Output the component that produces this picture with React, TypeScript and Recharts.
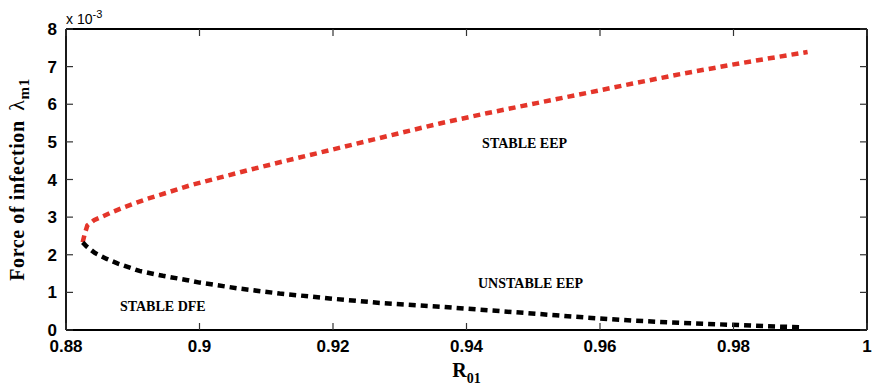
import React from 'react';
import { LineChart, Line, XAxis, YAxis, ReferenceDot } from 'recharts';

// Upper branch (stable endemic equilibrium), lambda in units of 1e-3
const upperR = [0.8825, 0.8828, 0.8832, 0.8842, 0.8855, 0.887, 0.8888, 0.8905, 0.8922, 0.8955, 0.8985, 0.903, 0.908, 0.913, 0.92, 0.926, 0.9304, 0.936, 0.943, 0.9505, 0.958, 0.9649, 0.972, 0.9794, 0.985, 0.9911];
const upperL = [2.33, 2.55, 2.78, 2.92, 3.02, 3.14, 3.27, 3.38, 3.49, 3.67, 3.84, 4.05, 4.28, 4.5, 4.8, 5.06, 5.25, 5.49, 5.76, 6.03, 6.3, 6.55, 6.8, 7.04, 7.21, 7.39];

// Lower branch (unstable endemic equilibrium)
const lowerR = [0.8825, 0.8831, 0.8843, 0.8861, 0.8877, 0.891, 0.8945, 0.898, 0.9, 0.906, 0.912, 0.92, 0.927, 0.936, 0.942, 0.9505, 0.958, 0.9649, 0.972, 0.9794, 0.985, 0.9904];
const lowerL = [2.33, 2.22, 2.05, 1.89, 1.77, 1.57, 1.44, 1.33, 1.26, 1.1, 0.97, 0.83, 0.72, 0.62, 0.54, 0.43, 0.33, 0.25, 0.19, 0.14, 0.1, 0.07];

const xTicks = [0.88, 0.9, 0.92, 0.94, 0.96, 0.98, 1];
const xTickLabels = ['0.88', '0.9', '0.92', '0.94', '0.96', '0.98', '1'];
const yTicks = [0, 1, 2, 3, 4, 5, 6, 7, 8];

const annotationText = ['STABLE EEP', 'UNSTABLE EEP', 'STABLE DFE'];
const annotationR = [0.9487, 0.9496, 0.8945];
const annotationL = [4.97, 1.24, 0.63];

const upperData = upperR.map((r, i) => ({ r, l: upperL[i] }));
const lowerData = lowerR.map((r, i) => ({ r, l: lowerL[i] }));

const ARIAL = "Arial, 'Liberation Sans', sans-serif";
const TIMES = "'Times New Roman', 'Liberation Serif', serif";
const TICK_LEN = 7;
const TICK_COLOR = '#333';

const BottomTick = (p: any) => {
  const axisY = p.y - 10;
  const idx = xTicks.indexOf(p.payload.value);
  return (
    <g>
      <line x1={p.x} x2={p.x} y1={axisY} y2={axisY - TICK_LEN} stroke={TICK_COLOR} strokeWidth={1.2} />
      <text x={p.x} y={axisY + 22} textAnchor="middle" fontFamily={ARIAL} fontWeight="bold" fontSize={17} fill="#000">
        {idx >= 0 ? xTickLabels[idx] : String(p.payload.value)}
      </text>
    </g>
  );
};

const TopTick = (p: any) => (
  <line x1={p.x} x2={p.x} y1={p.y} y2={p.y + TICK_LEN} stroke={TICK_COLOR} strokeWidth={1.2} />
);

const LeftTick = (p: any) => {
  const axisX = p.x + 9;
  return (
    <g>
      <line x1={axisX} x2={axisX + TICK_LEN} y1={p.y} y2={p.y} stroke={TICK_COLOR} strokeWidth={1.2} />
      <text x={p.x} y={p.y + 6} textAnchor="end" fontFamily={ARIAL} fontWeight="bold" fontSize={17} fill="#000">
        {String(p.payload.value)}
      </text>
    </g>
  );
};

const RightTick = (p: any) => (
  <line x1={p.x} x2={p.x - TICK_LEN} y1={p.y} y2={p.y} stroke={TICK_COLOR} strokeWidth={1.2} />
);

const YLabel = (p: any) => {
  const vb = p.viewBox || { x: 0, y: 29, width: 66, height: 301 };
  const cx = 24;
  const cy = vb.y + vb.height / 2;
  return (
    <g>
      <text
        x={cx}
        y={cy}
        transform={`rotate(-90, ${cx}, ${cy})`}
        textAnchor="middle"
        fontFamily={TIMES}
        fontWeight="bold"
        fontSize={20}
        letterSpacing={0.6}
        fill="#000"
      >
        <tspan>Force of infection </tspan>
        <tspan dx={4} fontWeight="normal" fontSize={22}>λ</tspan>
        <tspan dy={5} fontSize={15}>m1</tspan>
      </text>
      <text x={vb.x + vb.width} y={24} fontFamily={ARIAL} fontSize={14} fill="#000">
        <tspan>x 10</tspan>
        <tspan dy={-6} fontSize={11}>-3</tspan>
      </text>
    </g>
  );
};

const XLabel = (p: any) => {
  const vb = p.viewBox || { x: 66, y: 330, width: 801, height: 60 };
  const cx = vb.x + vb.width / 2;
  return (
    <text x={cx} y={377} textAnchor="middle" fontFamily={TIMES} fontWeight="bold" fill="#000">
      <tspan fontSize={20}>R</tspan>
      <tspan dy={6} fontSize={14}>01</tspan>
    </text>
  );
};

const AnnShape = (text: string) => (p: any) => (
  <text x={p.cx} y={p.cy + 5} textAnchor="middle" fontFamily={TIMES} fontWeight="bold" fontSize={14} fill="#000">
    {text}
  </text>
);

export default function App() {
  return (
    <div style={{ position: 'absolute', left: 0, top: 0, background: '#fff' }}>
      <LineChart width={874} height={390} margin={{ top: 28, right: 6, bottom: 0, left: 0 }}>
        <XAxis
          xAxisId="b"
          type="number"
          dataKey="r"
          domain={[0.88, 1]}
          ticks={xTicks}
          allowDataOverflow
          height={60}
          tickSize={0}
          tickMargin={10}
          tickLine={false}
          axisLine={{ stroke: '#000', strokeWidth: 1.8 }}
          tick={<BottomTick />}
          label={<XLabel />}
        />
        <XAxis
          xAxisId="t"
          orientation="top"
          type="number"
          dataKey="r"
          domain={[0.88, 1]}
          ticks={xTicks}
          allowDataOverflow
          height={1}
          tickSize={0}
          tickMargin={0}
          tickLine={false}
          axisLine={{ stroke: '#000', strokeWidth: 1.8 }}
          tick={<TopTick />}
        />
        <YAxis
          yAxisId="l"
          type="number"
          domain={[0, 8]}
          ticks={yTicks}
          allowDataOverflow
          width={66}
          tickSize={0}
          tickMargin={9}
          tickLine={false}
          axisLine={{ stroke: '#000', strokeWidth: 1.8 }}
          tick={<LeftTick />}
          label={<YLabel />}
        />
        <YAxis
          yAxisId="r"
          orientation="right"
          type="number"
          domain={[0, 8]}
          ticks={yTicks}
          allowDataOverflow
          width={1}
          tickSize={0}
          tickMargin={0}
          tickLine={false}
          axisLine={{ stroke: '#000', strokeWidth: 1.8 }}
          tick={<RightTick />}
        />
        <Line
          xAxisId="b"
          yAxisId="l"
          data={upperData}
          dataKey="l"
          type="linear"
          stroke="#e4352a"
          strokeWidth={4.5}
          strokeDasharray="7 5"
          dot={false}
          activeDot={false}
          isAnimationActive={false}
        />
        <Line
          xAxisId="b"
          yAxisId="l"
          data={lowerData}
          dataKey="l"
          type="linear"
          stroke="#000"
          strokeWidth={4.5}
          strokeDasharray="7 5"
          dot={false}
          activeDot={false}
          isAnimationActive={false}
        />
        {annotationText.map((t, i) => (
          <ReferenceDot
            key={t}
            xAxisId="b"
            yAxisId="l"
            x={annotationR[i]}
            y={annotationL[i]}
            r={0}
            shape={AnnShape(t)}
          />
        ))}
      </LineChart>
    </div>
  );
}
